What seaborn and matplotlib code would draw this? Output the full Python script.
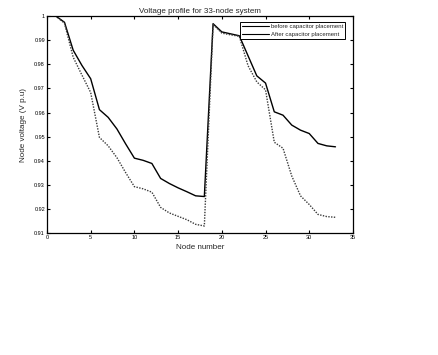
import matplotlib
matplotlib.use('Agg')
import matplotlib.pyplot as plt
from matplotlib.lines import Line2D
import numpy as np
import pandas as pd
import seaborn as sns

# 节点编号 1..33
nodes = list(range(1, 34))

# solid line (legend: before capacitor placement)
v_before = [1.0000, 0.9974, 0.9858, 0.9795, 0.9740, 0.9612, 0.9580, 0.9532, 0.9470, 0.9411,
            0.9402, 0.9389, 0.9327, 0.9306, 0.9288, 0.9272, 0.9255, 0.9252, 0.9968, 0.9934,
            0.9926, 0.9918, 0.9835, 0.9752, 0.9722, 0.9603, 0.9589, 0.9548, 0.9527, 0.9513,
            0.9472, 0.9462, 0.9458]

# dotted line (legend: After capacitor placement)
v_after = [1.0000, 0.9970, 0.9829, 0.9755, 0.9683, 0.9497, 0.9462, 0.9413, 0.9351, 0.9293,
           0.9284, 0.9270, 0.9207, 0.9184, 0.9170, 0.9156, 0.9137, 0.9130, 0.9965, 0.9929,
           0.9922, 0.9916, 0.9794, 0.9727, 0.9694, 0.9477, 0.9452, 0.9337, 0.9255, 0.9219,
           0.9178, 0.9169, 0.9166]

series_names = ['before capacitor placement', 'After capacitor placement']

x_ticks = [0, 5, 10, 15, 20, 25, 30, 35]
y_ticks = [0.91, 0.92, 0.93, 0.94, 0.95, 0.96, 0.97, 0.98, 0.99, 1.00]
y_tick_labels = ['0.91', '0.92', '0.93', '0.94', '0.95', '0.96', '0.97', '0.98', '0.99', '1']

df = pd.DataFrame({'node': nodes, 'before': v_before, 'after': v_after})

sns.set_style('white')
plt.rcParams['font.family'] = ['Liberation Sans', 'DejaVu Sans']

fig = plt.figure(figsize=(4.39, 3.55), dpi=100)
ax = fig.add_axes([0.107, 0.343, 0.697, 0.612])

sns.lineplot(data=df, x='node', y='before', ax=ax, color='black', linewidth=1.0)
sns.lineplot(data=df, x='node', y='after', ax=ax, color='#3a3a3a', linewidth=1.0,
             linestyle=(0, (1, 1)))

ax.set_xlim(0, 35)
ax.set_ylim(0.91, 1.0)
ax.set_xticks(x_ticks)
ax.set_xticklabels([str(t) for t in x_ticks])
ax.set_yticks(y_ticks)
ax.set_yticklabels(y_tick_labels)
ax.tick_params(direction='in', length=2.5, width=0.8, labelsize=4.0, pad=1.5,
               top=True, right=True, bottom=True, left=True, colors='black')
for s in ax.spines.values():
    s.set_color('black')
    s.set_linewidth(0.9)

ax.set_title('Voltage profile for 33-node system', fontsize=5.8, pad=2)
ax.set_xlabel('Node number', fontsize=5.8, labelpad=2.5)
ax.set_ylabel('Node voltage (V p.u)', fontsize=5.8, labelpad=5)

# legend: both handles show as plain black lines in the figure
handles = [Line2D([], [], color='black', linewidth=0.8),
           Line2D([], [], color='black', linewidth=0.8)]
leg = ax.legend(handles, series_names, loc='upper right', fontsize=4.3,
                frameon=True, fancybox=False, edgecolor='black', framealpha=1,
                handlelength=4.5, handletextpad=0.3, borderpad=0.35,
                labelspacing=0.35, borderaxespad=0.5, bbox_to_anchor=(0.985, 0.985))
leg.get_frame().set_linewidth(0.7)

fig.savefig('out.png', dpi=100, facecolor='white')
